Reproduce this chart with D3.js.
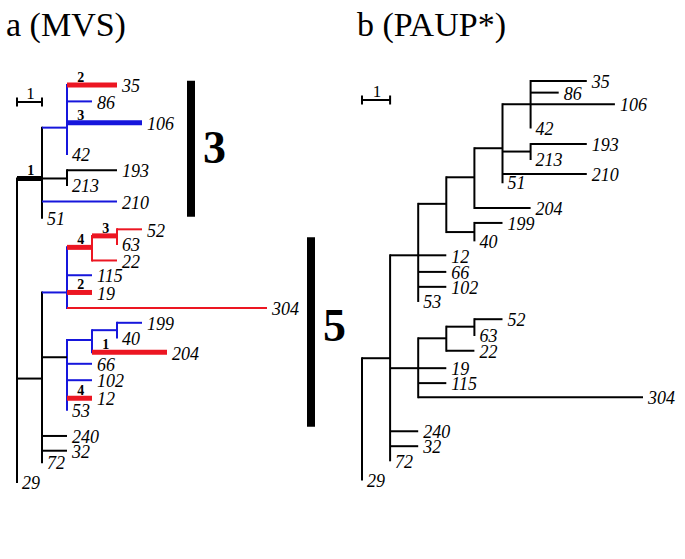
<!DOCTYPE html>
<html><head><meta charset="utf-8">
<script src="https://cdn.jsdelivr.net/npm/d3@7"></script>
<style>body{margin:0;background:#fff}svg{display:block}</style>
</head><body>
<svg id="chart" width="685" height="559"></svg>
<script>
// ---------------- DATA ----------------
const panelTitles = ["a (MVS)", "b (PAUP*)"];
const scaleBarUnits = 1;

// MVS tree: [node, parent, branch length, row, branch state, clade state, changes]
const mvsNodes = [
  ["r",   "",   0, 0,    "K", "K", 0],
  ["A1",  "r",  1, 5.7,  "K", "K", 1],
  ["C1",  "A1", 1, 2.6,  "B", "B", 0],
  ["35",  "C1", 2, 0,    "R", "R", 2],
  ["86",  "C1", 1, 1.0,  "B", "B", 0],
  ["106", "C1", 3, 2.3,  "B", "B", 3],
  ["42",  "C1", 0, 4.2,  "B", "B", 0],
  ["C2",  "A1", 1, 5.7,  "K", "K", 0],
  ["193", "C2", 2, 5.2,  "K", "K", 0],
  ["213", "C2", 0, 6.1,  "K", "K", 0],
  ["210", "A1", 3, 7.1,  "B", "B", 0],
  ["51",  "A1", 0, 8.1,  "K", "K", 0],
  ["B",   "r",  1, 17.9, "K", "K", 0],
  ["D",   "B",  1, 12.65,"B", "B", 0],
  ["E",   "D",  1, 9.9,  "R", "R", 4],
  ["F",   "E",  1, 9.2,  "R", "R", 3],
  ["52",  "F",  1, 8.8,  "R", "R", 0],
  ["63",  "F",  0, 9.7,  "R", "R", 0],
  ["22",  "E",  1, 10.7, "R", "R", 0],
  ["115", "D",  1, 11.6, "B", "B", 0],
  ["19",  "D",  1, 12.65,"R", "R", 2],
  ["304", "D",  8, 13.6, "R", "R", 0],
  ["G",   "B",  1, 16.6, "K", "B", 0],
  ["H",   "G",  1, 15.55,"B", "B", 0],
  ["I",   "H",  1, 14.95,"B", "B", 0],
  ["199", "I",  1, 14.5, "B", "B", 0],
  ["40",  "I",  0, 15.4, "B", "B", 0],
  ["204", "H",  3, 16.3, "R", "R", 1],
  ["66",  "G",  1, 17.0, "B", "B", 0],
  ["102", "G",  1, 18.0, "B", "B", 0],
  ["12",  "G",  1, 19.1, "R", "R", 4],
  ["53",  "G",  0, 19.8, "B", "B", 0],
  ["240", "B",  1, 21.4, "K", "K", 0],
  ["32",  "B",  1, 22.3, "K", "K", 0],
  ["72",  "B",  0, 23.0, "K", "K", 0],
  ["29",  "r",  0, 24.2, "K", "K", 0]
];

// PAUP* tree: [node, parent, branch length, row]
const paupNodes = [
  ["r",   "",   0, 0],
  ["Q",   "r",  1, 16.7],
  ["P",   "Q",  1, 10.5],
  ["Y",   "P",  1, 7.4],
  ["X",   "Y",  1, 5.8],
  ["A1",  "X",  1, 4.05],
  ["C1",  "A1", 1, 1.4],
  ["35",  "C1", 2, 0],
  ["86",  "C1", 1, 0.7],
  ["106", "C1", 3, 1.4],
  ["42",  "C1", 0, 2.8],
  ["C2",  "A1", 1, 4.25],
  ["193", "C2", 2, 3.8],
  ["213", "C2", 0, 4.7],
  ["210", "A1", 3, 5.6],
  ["51",  "A1", 0, 6.1],
  ["204", "X",  2, 7.65],
  ["W",   "Y",  1, 9.1],
  ["199", "W",  1, 8.55],
  ["40",  "W",  0, 9.6],
  ["12",  "P",  1, 10.5],
  ["66",  "P",  1, 11.5],
  ["102", "P",  1, 12.4],
  ["53",  "P",  0, 13.25],
  ["R",   "Q",  1, 17.3],
  ["S",   "R",  1, 15.5],
  ["T",   "S",  1, 14.8],
  ["52",  "T",  1, 14.35],
  ["63",  "T",  0, 15.3],
  ["22",  "S",  1, 16.25],
  ["19",  "R",  1, 17.3],
  ["115", "R",  1, 18.2],
  ["304", "R",  8, 19.05],
  ["240", "Q",  1, 21.1],
  ["32",  "Q",  1, 22.0],
  ["72",  "Q",  0, 22.85],
  ["29",  "r",  0, 24.0]
];

// clade bars next to MVS tree: [label, row from, row to, label row]
const cladeBars = [
  ["3", -0.26, 8.03, 3.8],
  ["5", 9.29, 20.84, 14.6]
];

// ---------------- DRAW ----------------
const svg = d3.select("#chart");
const FONT = "'Liberation Serif','Times New Roman',serif";
const stateColor = d3.scaleOrdinal().domain(["K","B","R"]).range(["#000000","#1616dc","#ec1622"]);

svg.append("rect").attr("width",685).attr("height",559).attr("fill","#fff");

// titles
svg.selectAll("text.title").data(panelTitles).enter().append("text")
  .attr("class","title")
  .attr("x",(d,i)=> i===0 ? 6 : 357)
  .attr("y",36)
  .attr("font-family",FONT).attr("font-size",34)
  .text(d=>d);

function build(nodes){
  const root = d3.stratify().id(d=>d[0]).parentId(d=>d[1]===""?null:d[1])(nodes);
  root.eachBefore(n=>{ n.dist = (n.parent ? n.parent.dist : 0) + n.data[2]; });
  return root;
}

function drawTree(nodes, xs, ys, opts){
  const root = build(nodes);
  const g = svg.append("g");
  const colored = opts.colored;
  const thin = opts.thin, thick = opts.thick;
  // verticals
  root.descendants().filter(n=>n.children).forEach(n=>{
    const rows = n.children.map(c=>c.data[3]);
    g.append("line")
      .attr("x1",xs(n.dist)).attr("x2",xs(n.dist))
      .attr("y1",ys(d3.min(rows))).attr("y2",ys(d3.max(rows)))
      .attr("stroke", colored ? stateColor(n.data[5]) : "#000")
      .attr("stroke-width",thin).attr("stroke-linecap","square");
  });
  // horizontals (thin first, thick on top)
  const links = root.descendants().filter(n=>n.parent && n.data[2]>0);
  links.sort((a,b)=> (colored && a.data[6]>0 ? 1:0) - (colored && b.data[6]>0 ? 1:0));
  links.forEach(n=>{
    const isThick = colored && n.data[6]>0;
    g.append("line")
      .attr("x1",xs(n.parent.dist)).attr("x2",xs(n.dist))
      .attr("y1",ys(n.data[3])).attr("y2",ys(n.data[3]))
      .attr("stroke", colored ? stateColor(n.data[4]) : "#000")
      .attr("stroke-width", isThick ? thick : thin);
    if (isThick){
      g.append("text")
        .attr("x", xs(n.parent.dist) + (xs(1)-xs(0))*0.55)
        .attr("y", ys(n.data[3]) - 3)
        .attr("text-anchor","middle")
        .attr("font-family",FONT).attr("font-weight","bold").attr("font-size",14)
        .text(n.data[6]);
    }
  });
  // tip labels
  root.leaves().forEach(n=>{
    g.append("text")
      .attr("x", xs(n.dist) + 5)
      .attr("y", ys(n.data[3]))
      .attr("dy","0.4em")
      .attr("font-family",FONT).attr("font-style","italic").attr("font-size",18)
      .text(n.id);
  });
  // scale bar
  const sb = g.append("g");
  const x0 = xs(0), x1 = xs(scaleBarUnits), yb = opts.scaleY;
  sb.append("line").attr("x1",x0).attr("x2",x1).attr("y1",yb).attr("y2",yb).attr("stroke","#000").attr("stroke-width",2);
  [x0,x1].forEach(x=> sb.append("line").attr("x1",x).attr("x2",x).attr("y1",yb-4.5).attr("y2",yb+4.5).attr("stroke","#000").attr("stroke-width",2));
  sb.append("text").attr("x",(x0+x1)/2+1).attr("y",yb-3).attr("text-anchor","middle")
    .attr("font-family",FONT).attr("font-size",17).text(scaleBarUnits);
  return root;
}

// scales
const xA = d3.scaleLinear().domain([0,10]).range([17,267]);
const yA = d3.scaleLinear().domain([0,24]).range([85,478.6]);
const xB = d3.scaleLinear().domain([0,10]).range([362,643]);
const yB = d3.scaleLinear().domain([0,24]).range([81,479.4]);

drawTree(mvsNodes, xA, yA, {colored:true, thin:2, thick:5, scaleY:102});
drawTree(paupNodes, xB, yB, {colored:false, thin:2, thick:2, scaleY:100});

// clade bars
const barX = [191, 311];
cladeBars.forEach((b,i)=>{
  svg.append("line").attr("x1",barX[i]).attr("x2",barX[i])
    .attr("y1",yA(b[1])).attr("y2",yA(b[2]))
    .attr("stroke","#000").attr("stroke-width",8);
  svg.append("text").attr("x",barX[i]+12).attr("y",yA(b[3]))
    .attr("dy","0.35em")
    .attr("font-family",FONT).attr("font-weight","bold").attr("font-size",46)
    .text(b[0]);
});
</script>
</body></html>
